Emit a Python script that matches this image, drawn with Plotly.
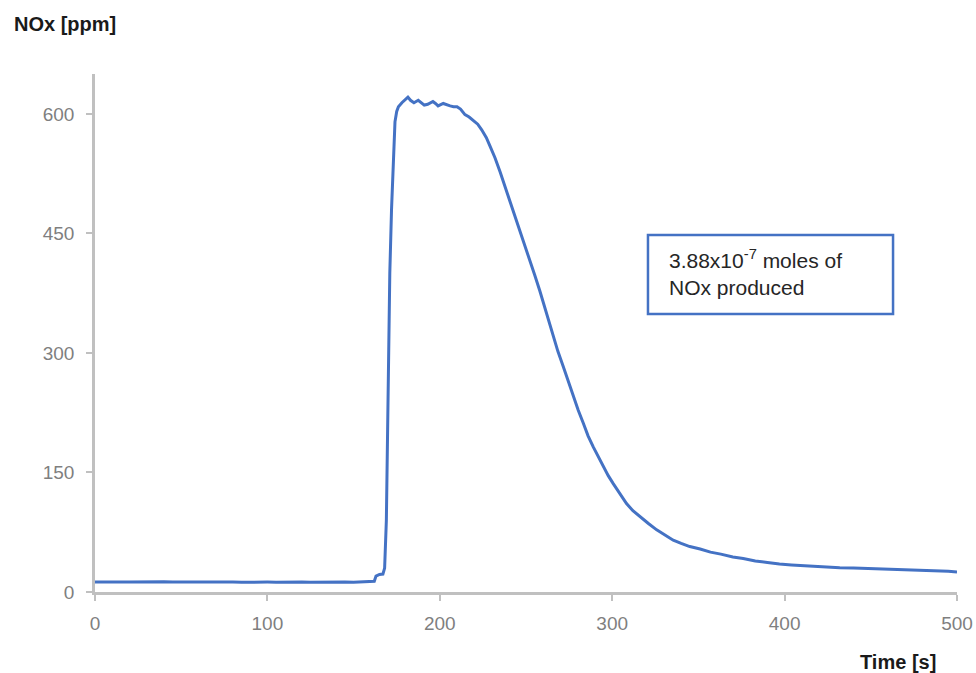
import plotly.graph_objects as go

# Time [s]
time_s = [0, 5, 10, 15, 20, 25, 30, 35, 40, 45, 50, 55, 60, 65, 70, 75, 80, 85, 90, 95,
          100, 105, 110, 115, 120, 125, 130, 135, 140, 145, 150, 155, 160,
          162, 163, 165, 167, 168, 169, 170, 171, 172, 173, 174, 175, 176, 178, 180, 181.5,
          183, 185, 187.5, 189, 191, 193, 195, 196, 197.5, 199, 202, 204, 206, 208, 210,
          212, 214.6, 217, 219.4, 222, 224.3, 227, 229, 232, 235, 238.8, 242.6, 246.5,
          249.4, 252.3, 255, 258, 262, 265.8, 268.5, 271.6, 274.5, 277.4, 280.3, 283.2,
          286, 289, 292, 294.8, 297.7, 300.6, 304.5, 308.3, 312, 316, 321, 325.8, 330,
          335.4, 340, 345, 351, 357, 363, 370, 376, 383, 390, 397, 404, 411, 418, 425,
          432, 440, 448, 456, 464, 472, 480, 488, 495, 500]
# NOx concentration [ppm]
nox_ppm = [12.5, 12.8, 13.2, 12.6, 12.4, 12.7, 12.3, 12.6, 12.9, 12.5, 12.8, 13.0, 12.7,
           12.4, 12.6, 12.9, 12.5, 12.3, 12.6, 12.8, 12.4, 12.2, 12.5, 12.4, 12.6, 12.3,
           12.5, 12.7, 12.4, 12.6, 12.3, 12.5, 12.8,
           13.5, 20, 22, 22.5, 30, 90, 250, 400, 480, 550, 590, 603, 609, 614, 618, 621,
           617, 614, 617, 614, 611, 612, 614, 615.5, 613, 610, 613, 611, 610, 609, 609,
           606, 599, 596, 592, 587, 580, 570, 560, 545, 527, 503, 479, 454,
           436, 416, 398, 378, 349, 320, 302, 283, 264, 245, 228, 212,
           196, 182, 169, 157, 146, 136, 123, 111, 102, 94.5, 86, 78, 72,
           65, 61, 57, 54, 50, 47.5, 44, 42, 39, 37, 35, 34, 33, 32, 31,
           30.5, 30, 29.5, 29, 28, 27.5, 27, 26.5, 26, 25]

x_ticks = [0, 100, 200, 300, 400, 500]
y_ticks = [0, 150, 300, 450, 600]

FONT = "Liberation Sans, Arial, sans-serif"
AXIS_GREY = "#c0c0c0"
LABEL_GREY = "#7f7f7f"

fig = go.Figure()
fig.add_trace(go.Scatter(x=time_s, y=nox_ppm, mode="lines",
                         line=dict(color="#4472c4", width=3),
                         hoverinfo="x+y", showlegend=False))

fig.update_layout(
    width=976, height=673,
    margin=dict(l=95, r=19, t=74, b=81, autoexpand=False),
    paper_bgcolor="white", plot_bgcolor="white",
    font=dict(family=FONT, size=19, color=LABEL_GREY),
    xaxis=dict(range=[0, 500], tickvals=x_ticks, showgrid=False, zeroline=False,
               showline=True, linecolor=AXIS_GREY, linewidth=2.5,
               ticks="outside", ticklen=6, tickwidth=2, tickcolor=AXIS_GREY,
               tickfont=dict(family=FONT, size=19, color=LABEL_GREY), ticklabelstandoff=6),
    yaxis=dict(range=[0, 650], tickvals=y_ticks, showgrid=False, zeroline=False,
               showline=True, linecolor=AXIS_GREY, linewidth=2.5,
               ticks="outside", ticklen=6, tickwidth=2, tickcolor=AXIS_GREY,
               tickfont=dict(family=FONT, size=19, color=LABEL_GREY), ticklabelstandoff=8),
)

# axis titles
fig.add_annotation(text="<b>NOx [ppm]</b>", xref="paper", yref="paper",
                   x=-0.0963, y=1.0965, xanchor="left", yanchor="middle",
                   showarrow=False, font=dict(family=FONT, size=20, color="#1a1a1a"))
fig.add_annotation(text="<b>Time [s]</b>", xref="paper", yref="paper",
                   x=0.978, y=-0.135, xanchor="right", yanchor="middle",
                   showarrow=False, font=dict(family=FONT, size=20, color="#1a1a1a"))

# text box
fig.add_shape(type="rect", xref="paper", yref="paper",
              x0=0.6415, x1=0.9258, y0=0.5367, y1=0.689,
              line=dict(color="#4472c4", width=2.5), fillcolor="white", layer="above")
fig.add_annotation(text="3.88x10<sup>-7</sup> moles of<br>NOx produced",
                   xref="paper", yref="paper", x=0.6636, y=0.6168,
                   xanchor="left", yanchor="middle", align="left", showarrow=False,
                   font=dict(family=FONT, size=21, color="#262626"))

fig.write_html("out.html", config={"displayModeBar": False},
               post_script="document.body.style.margin='0';document.body.style.overflow='hidden';")
